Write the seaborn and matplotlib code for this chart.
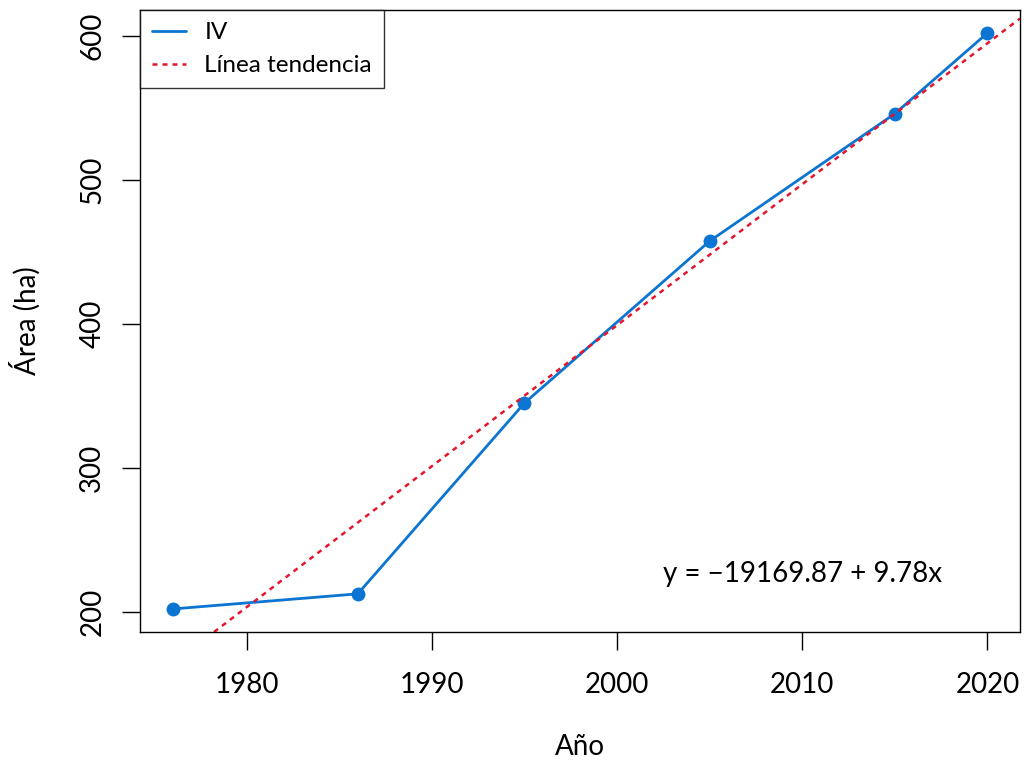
import numpy as np
import pandas as pd
import matplotlib
matplotlib.use("Agg")
import matplotlib.pyplot as plt
import seaborn as sns
from matplotlib.lines import Line2D

years = [1976, 1986, 1995, 2005, 2015, 2020]
area = [202, 212.5, 345, 457.5, 546, 602]
series_name = "IV"
trend_name = "Línea tendencia"
equation_text = "y = \u221219169.87 + 9.78x"
x_ticks = [1980, 1990, 2000, 2010, 2020]
y_ticks = [200, 300, 400, 500, 600]

sns.set_theme(style="white")
plt.rcParams["font.family"] = ["Lato", "DejaVu Sans"]
plt.rcParams["text.color"] = "black"
plt.rcParams["axes.labelcolor"] = "black"
plt.rcParams["xtick.color"] = "black"
plt.rcParams["ytick.color"] = "black"

blue = "#0b75d1"
red = "#e3162d"

df = pd.DataFrame({"Año": years, "Área": area})

fig = plt.figure(figsize=(10.28, 7.61), dpi=100)
ax = fig.add_axes([140 / 1028, 1 - 632 / 761, 880 / 1028, 622 / 761])

sns.lineplot(data=df, x="Año", y="Área", ax=ax, color=blue, linewidth=2,
             marker="o", markersize=10, markeredgewidth=0, legend=False)

slope, intercept = np.polyfit(years, area, 1)
ax.axline((2000, intercept + slope * 2000), slope=slope, color=red,
          linestyle=(0, (2, 2)), linewidth=1.8)

xr = max(years) - min(years)
yr = max(area) - min(area)
ax.set_xlim(min(years) - 0.04 * xr, max(years) + 0.04 * xr)
ax.set_ylim(min(area) - 0.04 * yr, max(area) + 0.04 * yr)

ax.set_xticks(x_ticks)
ax.set_yticks(y_ticks)
ax.tick_params(axis="both", direction="out", length=13, width=1, color="black",
               labelcolor="black", labelsize=20, bottom=True, left=True)
ax.tick_params(axis="x", pad=16)
ax.tick_params(axis="y", pad=12)
for lab in ax.get_yticklabels():
    lab.set_rotation(90)
    lab.set_va("center")
for s in ax.spines.values():
    s.set_color("black")
    s.set_linewidth(1)

ax.set_xlabel("Año", fontsize=20, labelpad=26, color="black")
ax.set_ylabel("Área (ha)", fontsize=20, labelpad=28, color="black")

ax.text(2010, 226, equation_text, ha="center", va="center", fontsize=20,
        color="black")

handles = [Line2D([], [], color=blue, linewidth=2),
           Line2D([], [], color=red, linestyle=(0, (2, 2)), linewidth=1.8)]
leg = ax.legend(handles, [series_name, trend_name], loc="upper left",
                bbox_to_anchor=(0, 1), borderaxespad=0, fontsize=17.5,
                frameon=True, fancybox=False, handlelength=1.4,
                handletextpad=0.75, borderpad=0.5, labelspacing=0.5)
leg.get_frame().set_edgecolor("black")
leg.get_frame().set_linewidth(1)
for t in leg.get_texts():
    t.set_color("black")

fig.savefig("out.png", dpi=100)
